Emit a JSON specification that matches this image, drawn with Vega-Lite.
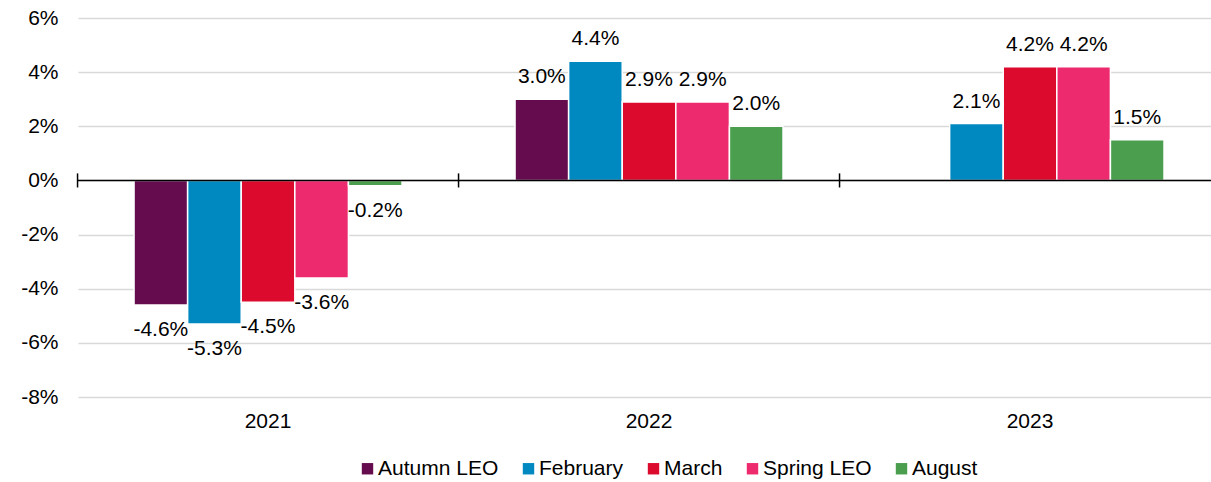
{
  "$schema": "https://vega.github.io/schema/vega-lite/v6.json",
  "width": 1133,
  "height": 379,
  "autosize": {"type": "none"},
  "padding": {"left": 78, "top": 18, "right": 0, "bottom": 85},
  "config": {
    "locale": {"number": {"decimal": ".", "thousands": ",", "grouping": [3], "currency": ["$", ""], "minus": "-"}},
    "view": {"stroke": null},
    "font": "Liberation Sans",
    "axisX": {"domain": false, "ticks": false, "grid": false, "labelFontSize": 21, "labelPadding": 13, "labelColor": "#000000", "labelAngle": 0, "labelFont": "Liberation Sans"},
    "axisY": {"domain": false, "ticks": false, "grid": true, "gridColor": "#d9d9d9", "gridWidth": 1.5, "labelFontSize": 21, "labelPadding": 20, "labelColor": "#000000", "labelFont": "Liberation Sans"}
  },
  "datasets": {
    "bars": [
      {"year": "2021", "series": "Autumn LEO", "value": -0.046},
      {"year": "2021", "series": "February", "value": -0.053},
      {"year": "2021", "series": "March", "value": -0.045},
      {"year": "2021", "series": "Spring LEO", "value": -0.036},
      {"year": "2021", "series": "August", "value": -0.002},
      {"year": "2022", "series": "Autumn LEO", "value": 0.030},
      {"year": "2022", "series": "February", "value": 0.044},
      {"year": "2022", "series": "March", "value": 0.029},
      {"year": "2022", "series": "Spring LEO", "value": 0.029},
      {"year": "2022", "series": "August", "value": 0.020},
      {"year": "2023", "series": "February", "value": 0.021},
      {"year": "2023", "series": "March", "value": 0.042},
      {"year": "2023", "series": "Spring LEO", "value": 0.042},
      {"year": "2023", "series": "August", "value": 0.015}
    ],
    "bounds": [{"year": "2021"}, {"year": "2022"}, {"year": "2023"}],
    "zero": [{"z": 0}]
  },
  "encoding": {
    "x": {"field": "year", "type": "nominal", "title": null,
      "scale": {"domain": ["2021", "2022", "2023"], "paddingInner": 0.2966, "paddingOuter": 0.1352, "align": 0.544}}
  },
  "layer": [
    {
      "data": {"name": "bars"},
      "mark": {"type": "bar", "stroke": "#ffffff", "strokeWidth": 1.5},
      "encoding": {
        "xOffset": {"field": "series", "type": "nominal", "sort": ["Autumn LEO", "February", "March", "Spring LEO", "August"], "scale": {"domain": ["Autumn LEO", "February", "March", "Spring LEO", "August"], "paddingInner": 0, "paddingOuter": 0}},
        "y": {"field": "value", "type": "quantitative", "title": null,
          "scale": {"domain": [-0.08, 0.06], "nice": false},
          "axis": {"values": [-0.08, -0.06, -0.04, -0.02, 0, 0.02, 0.04, 0.06], "format": ".0%"}},
        "color": {"field": "series", "type": "nominal",
          "scale": {"domain": ["Autumn LEO", "February", "March", "Spring LEO", "August"], "range": ["#640c4e", "#0089c1", "#dc0a2d", "#ee2a6e", "#4a9e4e"]},
          "legend": {"orient": "none", "legendX": 279, "legendY": 440, "direction": "horizontal", "title": null, "symbolType": "square", "symbolSize": 130, "symbolStrokeWidth": 0, "labelFontSize": 21, "labelColor": "#000000", "labelFont": "Liberation Sans", "columnPadding": 19, "labelOffset": 0, "padding": 0}}
      }
    },
    {
      "data": {"name": "bars"},
      "transform": [{"filter": "datum.value >= 0"}],
      "mark": {"type": "text", "baseline": "alphabetic", "dy": -16, "fontSize": 21, "color": "#000000", "font": "Liberation Sans"},
      "encoding": {
        "xOffset": {"field": "series", "type": "nominal", "sort": ["Autumn LEO", "February", "March", "Spring LEO", "August"]},
        "y": {"field": "value", "type": "quantitative"},
        "text": {"field": "value", "type": "quantitative", "format": ".1%"}
      }
    },
    {
      "data": {"name": "bars"},
      "transform": [{"filter": "datum.value < 0"}],
      "mark": {"type": "text", "baseline": "alphabetic", "dy": 31, "fontSize": 21, "color": "#000000", "font": "Liberation Sans"},
      "encoding": {
        "xOffset": {"field": "series", "type": "nominal", "sort": ["Autumn LEO", "February", "March", "Spring LEO", "August"]},
        "y": {"field": "value", "type": "quantitative"},
        "text": {"field": "value", "type": "quantitative", "format": ".1%"}
      }
    },
    {
      "data": {"name": "zero"},
      "mark": {"type": "rule", "color": "#000000", "strokeWidth": 1.5},
      "encoding": {
        "x": null,
        "y": {"field": "z", "type": "quantitative"}
      }
    },
    {
      "data": {"name": "bounds"},
      "mark": {"type": "rule", "color": "#000000", "strokeWidth": 1.5},
      "encoding": {
        "x": {"field": "year", "type": "nominal", "title": null, "bandPosition": -0.2108},
        "y": {"datum": 0.0026},
        "y2": {"datum": -0.0026}
      }
    }
  ]
}
